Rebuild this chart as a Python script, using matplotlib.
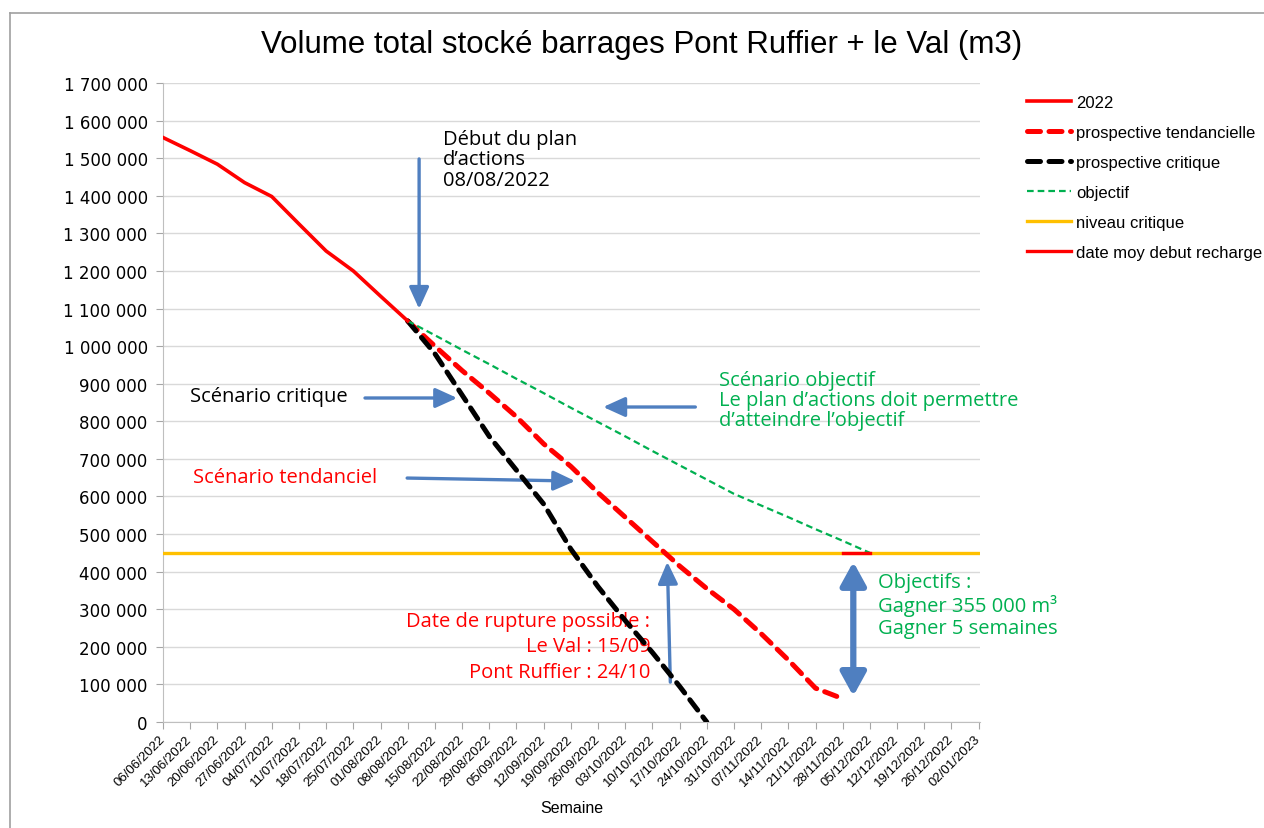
import numpy as np
import matplotlib
matplotlib.use("Agg")
import matplotlib.pyplot as plt
from matplotlib.lines import Line2D

# weekly categories
semaines = ['06/06/2022', '13/06/2022', '20/06/2022', '27/06/2022', '04/07/2022',
            '11/07/2022', '18/07/2022', '25/07/2022', '01/08/2022', '08/08/2022',
            '15/08/2022', '22/08/2022', '29/08/2022', '05/09/2022', '12/09/2022',
            '19/09/2022', '26/09/2022', '03/10/2022', '10/10/2022', '17/10/2022',
            '24/10/2022', '31/10/2022', '07/11/2022', '14/11/2022', '21/11/2022',
            '28/11/2022', '05/12/2022', '12/12/2022', '19/12/2022', '26/12/2022',
            '02/01/2023']

# series (start index in semaines, values)
start_2022 = 0
vol_2022 = [1555000, 1520000, 1484000, 1435000, 1398000, 1325000, 1253000,
            1200000, 1133000, 1067000]

start_prospective = 9
tendancielle = [1067000, 1000000, 935000, 875000, 812000, 740000, 680000, 610000,
                545000, 480000, 415000, 355000, 300000, 235000, 165000, 90000, 62000]
critique = [1067000, 980000, 870000, 760000, 670000, 580000, 460000, 360000,
            270000, 185000, 95000, 0]
objectif = [1067000, 1029000, 990000, 952000, 913000, 875000, 836000, 798000,
            760000, 721000, 683000, 645000, 607000, 576000, 545000, 513000,
            482000, 450000]

niveau_critique = 450000
start_recharge = 25
recharge = [450000, 450000]


def place(start, values):
    s = np.full(len(semaines), np.nan)
    s[start:start + len(values)] = values
    return s


x = np.arange(len(semaines))

fig = plt.figure(figsize=(12.64, 8.29), dpi=100)
ax = fig.add_axes([163 / 1264, 1 - 723 / 829, (980 - 163) / 1264, (723 - 84) / 829])

# chart border
fig.add_artist(Line2D([10 / 1264, 1.0], [1 - 14 / 829, 1 - 14 / 829], color='#A0A0A0', lw=1.2))
fig.add_artist(Line2D([10 / 1264, 10 / 1264], [0, 1 - 14 / 829], color='#A0A0A0', lw=1.2))

red = '#FF0000'
green = '#00B050'
orange = '#FFC000'
blue = '#4F7FC0'

ax.plot(x, place(start_2022, vol_2022), color=red, lw=2.6, label='2022', zorder=5)
ax.plot(x, place(start_prospective, tendancielle), color=red, lw=3.6,
        dashes=(2.6, 1.7), dash_capstyle='round', label='prospective tendancielle', zorder=4)
ax.plot(x, place(start_prospective, critique), color='black', lw=3.6,
        dashes=(2.6, 1.7), dash_capstyle='round', label='prospective critique', zorder=4)
ax.plot(x, place(start_prospective, objectif), color=green, lw=1.6,
        dashes=(3, 1.8), label='objectif', zorder=4)
ax.plot(x, [niveau_critique] * len(semaines), color=orange, lw=2.4,
        label='niveau critique', zorder=3)
ax.plot(x, place(start_recharge, recharge), color=red, lw=2.4,
        label='date moy debut recharge', zorder=4)

ax.set_xlim(0, 30.05)
ax.set_ylim(0, 1700000)
ax.set_yticks(np.arange(0, 1700001, 100000))
ax.set_yticklabels([f"{int(v):,}".replace(",", " ") for v in np.arange(0, 1700001, 100000)],
                   fontsize=12, family='DejaVu Sans')
ax.set_xticks(x)
ax.set_xticklabels(semaines, rotation=45, ha='right', va='center', rotation_mode='anchor',
                   fontsize=9.5, family='Liberation Sans')
ax.tick_params(axis='x', length=5, color='#A6A6A6', pad=6)
ax.tick_params(axis='y', length=5, color='#A6A6A6', pad=6)
ax.yaxis.grid(True, color='#D9D9D9', lw=1)
ax.set_axisbelow(True)
for s in ['top', 'right']:
    ax.spines[s].set_visible(False)
ax.spines['left'].set_color('#BFBFBF')
ax.spines['bottom'].set_color('#BFBFBF')
ax.set_xlabel('Semaine', fontsize=11.5, family='Liberation Sans', labelpad=8)

fig.text(642 / 1264, 1 - 45 / 829, 'Volume total stocké barrages Pont Ruffier + le Val (m3)',
         ha='center', va='center', fontsize=22.5, family='Liberation Sans')

fig.legend(loc='upper left', bbox_to_anchor=(1012 / 1264, 1 - 81 / 829), frameon=False,
           prop={'family': 'Liberation Sans', 'size': 12}, handlelength=2.65,
           handletextpad=0.3, labelspacing=0.9)

ann = dict(family='Open Sans', fontsize=14.5)
arrow = dict(arrowstyle='-|>,head_length=1.1,head_width=0.5', color=blue, lw=2.4,
             mutation_scale=12, shrinkA=0, shrinkB=0)

ax.text(10.3, 1578000, 'Début du plan\nd\u2019actions\n08/08/2022', ha='left', va='top',
        color='black', linespacing=1.03, **ann)
ax.annotate('', xy=(9.42, 1099000), xytext=(9.42, 1498000), arrowprops=arrow)

ax.text(0.99, 868000, 'Scénario critique', ha='left', va='center', color='black', **ann)
ax.annotate('', xy=(10.82, 862000), xytext=(7.43, 862000), arrowprops=arrow)

ax.text(1.1, 652000, 'Scénario tendanciel', ha='left', va='center', color=red, **ann)
ax.annotate('', xy=(15.16, 641000), xytext=(8.98, 649000), arrowprops=arrow)

ax.text(20.46, 857000, 'Scénario objectif\nLe plan d\u2019actions doit permettre\nd\u2019atteindre l\u2019objectif',
        ha='left', va='center', color=green, linespacing=1.02, **ann)
ax.annotate('', xy=(16.19, 838000), xytext=(19.58, 838000), arrowprops=arrow)

ax.text(17.92, 201000, 'Date de rupture possible :\nLe Val : 15/09\nPont Ruffier : 24/10',
        ha='right', va='center', multialignment='right', color=red, linespacing=1.35,
        family='Open Sans', fontsize=14.5)
ax.annotate('', xy=(18.55, 426000), xytext=(18.66, 106000), arrowprops=arrow)

ax.annotate('', xy=(25.39, 426000), xytext=(25.39, 69000),
            arrowprops=dict(arrowstyle='<|-|>,head_length=1.0,head_width=0.55', color=blue,
                            lw=4.5, mutation_scale=14, shrinkA=0, shrinkB=0))
ax.text(26.3, 312000, 'Objectifs :\nGagner 355 000 m³\nGagner 5 semaines',
        ha='left', va='center', color=green, linespacing=1.12, **ann)

fig.savefig('out.png', dpi=100)
